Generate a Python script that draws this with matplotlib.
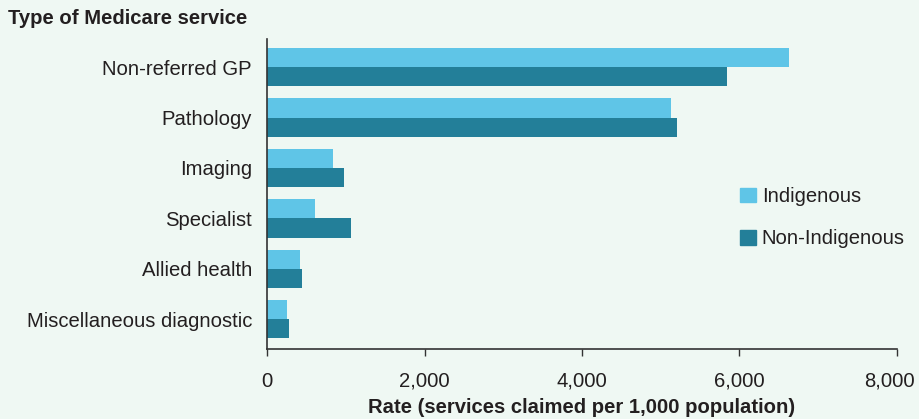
import matplotlib
matplotlib.use("Agg")
import matplotlib.pyplot as plt
import matplotlib.transforms as mtransforms
import numpy as np
from matplotlib.patches import Patch

categories = ["Non-referred GP", "Pathology", "Imaging", "Specialist",
              "Allied health", "Miscellaneous diagnostic"]
indigenous = [6630, 5130, 840, 610, 420, 245]
non_indigenous = [5850, 5210, 975, 1065, 440, 275]
xticks = [0, 2000, 4000, 6000, 8000]

bg = "#eff8f3"
c_ind = "#5fc5e7"
c_non = "#237f99"
txt = "#231f20"
fs = 14.6

plt.rcParams['font.family'] = ['Liberation Sans', 'DejaVu Sans']

fig = plt.figure(figsize=(9.2, 4.19), dpi=100, facecolor=bg)
ax = fig.add_axes([0.2905, 0.166, 0.684, 0.741])
ax.set_facecolor(bg)

y = np.arange(len(categories))
h = 0.38
ax.barh(y - h / 2, indigenous, height=h, color=c_ind, label="Indigenous")
ax.barh(y + h / 2, non_indigenous, height=h, color=c_non, label="Non-Indigenous")

ax.set_ylim(5.6, -0.56)
ax.set_xlim(0, 8000)
ax.set_yticks(y)
ax.set_yticklabels(categories, fontsize=fs, color=txt)
ax.set_xticks(xticks)
ax.set_xticklabels([f"{v:,}" for v in xticks], fontsize=fs, color=txt)
ax.tick_params(axis='y', length=0, pad=11)
ax.tick_params(axis='x', length=5, width=1, color="#333333", pad=11)

last = ax.get_xticklabels()[-1]
last.set_transform(last.get_transform() +
                   mtransforms.ScaledTranslation(-7 / 100, 0, fig.dpi_scale_trans))

for s in ["top", "right"]:
    ax.spines[s].set_visible(False)
for s in ["left", "bottom"]:
    ax.spines[s].set_color("#333333")
    ax.spines[s].set_linewidth(1.2)

ax.set_xlabel("Rate (services claimed per 1,000 population)", fontsize=fs,
              fontweight="bold", color=txt, labelpad=5)
fig.text(0.009, 0.957, "Type of Medicare service", fontsize=fs,
         fontweight="bold", color=txt, ha="left", va="center")

handles = [Patch(color=c_ind, label="Indigenous"),
           Patch(color=c_non, label="Non-Indigenous")]
leg = ax.legend(handles=handles, loc="center left", bbox_to_anchor=(0.723, 0.424),
                frameon=False, fontsize=fs, handlelength=0.75, handleheight=0.75,
                handletextpad=0.3, labelspacing=1.15)
for t in leg.get_texts():
    t.set_color(txt)

fig.savefig("out.png", dpi=100, facecolor=bg)
